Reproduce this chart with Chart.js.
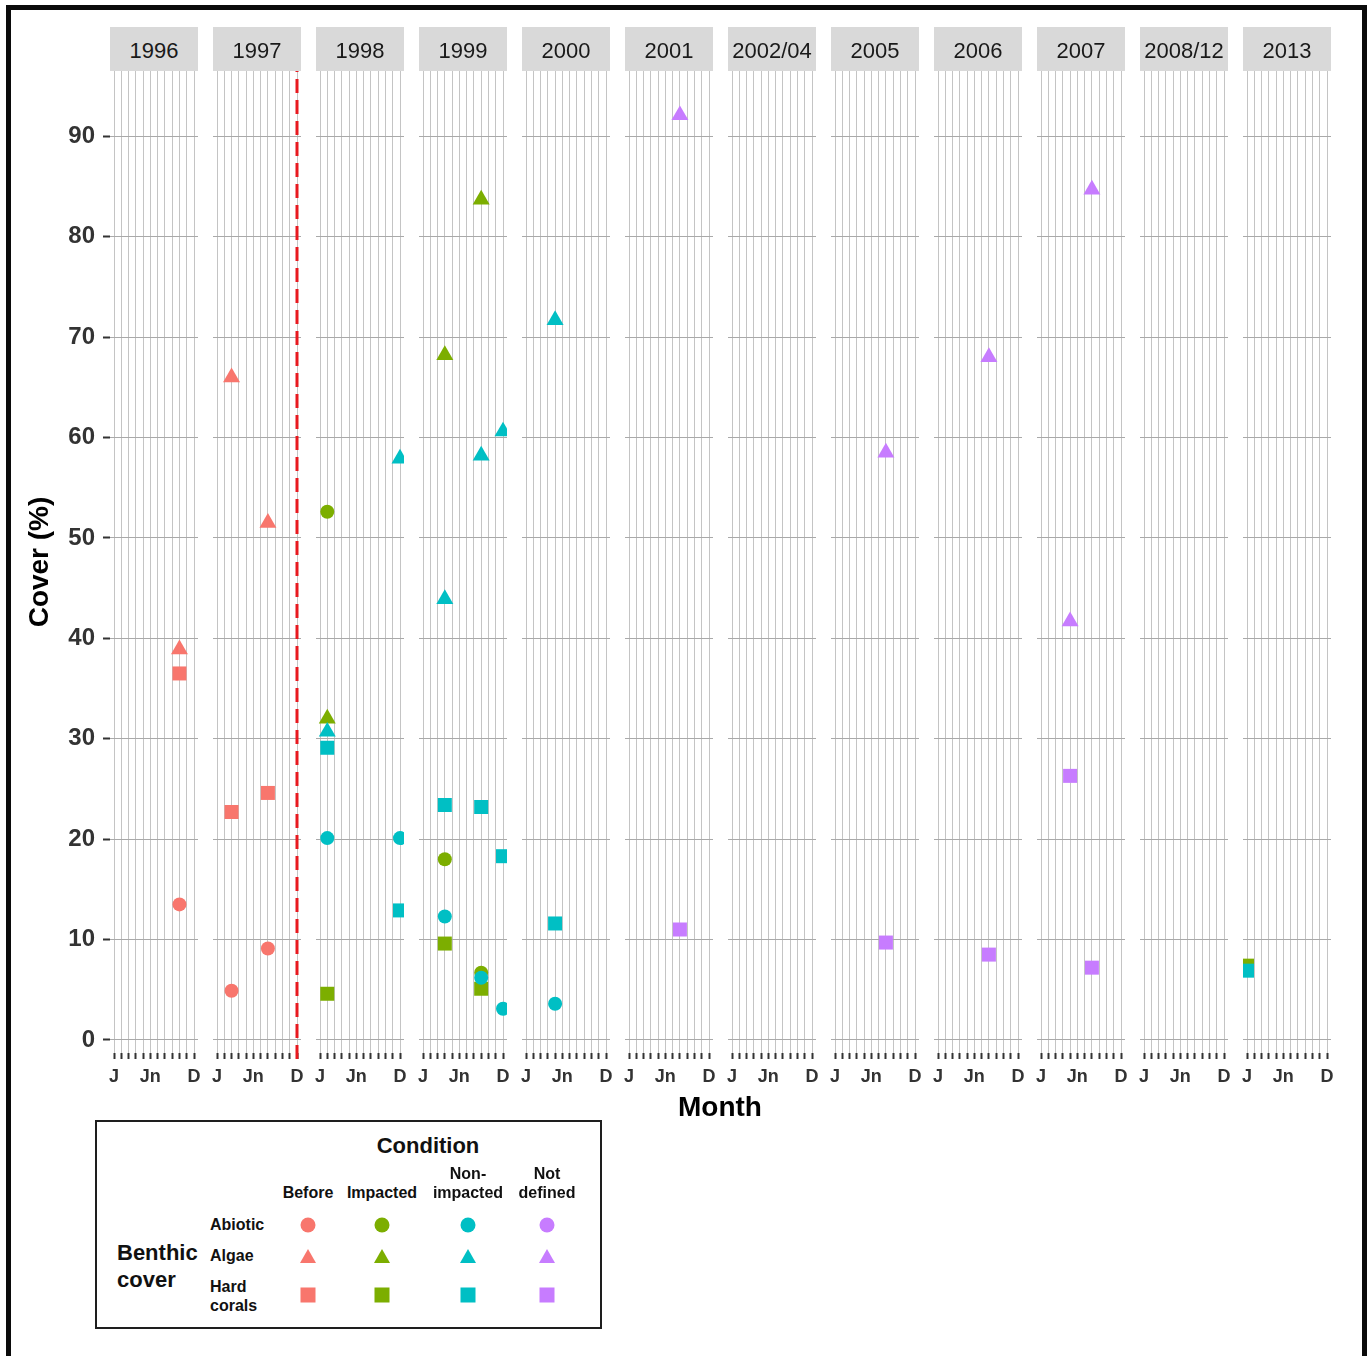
<!DOCTYPE html>
<html>
<head>
<meta charset="utf-8">
<script src="https://cdn.jsdelivr.net/npm/chart.js@4.4.0/dist/chart.umd.min.js"></script>
<style>
  body { margin: 0; background: #fff; width: 1372px; height: 1356px; overflow: hidden; position: relative;
         font-family: "Liberation Sans", Arial, sans-serif; }
  .frame { position: absolute; left: 6px; top: 5px; width: 1361px; height: 1420px; box-sizing: border-box;
           border: 5px solid #0b0b0b; }
  .strip { position: absolute; top: 27px; width: 88px; height: 44px; background: #d9d9d9; color: #1a1a1a;
           font-size: 22px; line-height: 48px; text-align: center; }
  .panel { position: absolute; top: 41px; }
  .txt { position: absolute; transform: translate(-50%, -50%); white-space: nowrap; line-height: 1; font-weight: bold; color: #111; }
  .ltxt { position: absolute; transform: translateY(-50%); white-space: nowrap; line-height: 1; font-weight: bold; color: #111; }
  .legend { position: absolute; left: 95px; top: 1120px; width: 507px; height: 209px; box-sizing: border-box;
            border: 2px solid #1e1e1e; }
  .sym { position: absolute; transform: translate(-50%, -50%); }
</style>
</head>
<body>
<div class="frame"></div>
<div id="plots"></div>
<div class="txt" style="left:720px; top:1107px; font-size:28px; color:#000;">Month</div>
<div class="legend"></div>
<div id="legendItems"></div>

<script>
// facetas (anos) e eixos
const panels = ['1996', '1997', '1998', '1999', '2000', '2001', '2002/04', '2005', '2006', '2007', '2008/12', '2013'];
const monthLabels = ['J', '', '', '', '', 'Jn', '', '', '', '', '', 'D'];
const yTicks = [0, 10, 20, 30, 40, 50, 60, 70, 80, 90];

const conditions = ['Before', 'Impacted', 'Non-impacted', 'Not defined'];
const conditionColors = ['#F8766D', '#7CAE00', '#00BFC4', '#C77CFF'];
const coverTypes = ['Abiotic', 'Algae', 'Hard corals'];

// amostragens
const samplePanel = ['1996', '1997', '1997', '1998', '1998', '1998', '1999', '1999', '1999', '1999', '1999',
                     '2000', '2001', '2005', '2006', '2007', '2007', '2013', '2013'];
const sampleMonth = [10, 3, 8, 2, 2, 12, 4, 4, 9, 9, 12, 5, 8, 8, 8, 5, 8, 1, 1];
const sampleCondition = ['Before', 'Before', 'Before', 'Impacted', 'Non-impacted', 'Non-impacted', 'Impacted',
                         'Non-impacted', 'Impacted', 'Non-impacted', 'Non-impacted', 'Non-impacted',
                         'Not defined', 'Not defined', 'Not defined', 'Not defined', 'Not defined',
                         'Impacted', 'Non-impacted'];
const abiotic    = [13.5, 4.9, 9.1, 52.6, 20.1, 20.1, 18.0, 12.3, 6.7, 6.2, 3.1, 3.6, null, null, null, null, null, null, null];
const algae      = [38.9, 66.0, 51.5, 32.0, 30.7, 57.9, 68.2, 43.9, 83.7, 58.2, 60.6, 71.7, 92.1, 58.5, 68.0, 41.7, 84.7, null, null];
const hardCorals = [36.5, 22.7, 24.6, 4.6, 29.1, 12.9, 9.6, 23.4, 5.1, 23.2, 18.3, 11.6, 11.0, 9.7, 8.5, 26.3, 7.2, 7.4, 6.9];

// linha vermelha: inicio do impacto (dez/1997)
const impactPanel = '1997';
const impactMonth = 12;

const coverValues = [abiotic, algae, hardCorals];
const coverStyles = [
    { pointStyle: 'circle', radius: 7 },
    { pointStyle: 'triangle', radius: 9.8 },
    { pointStyle: 'rect', radius: 9.9 }
];

const yMin = -1.3, yMax = 96.5;
const panelLeft0 = 110, panelStep = 103, panelWidth = 88;
const areaHeight = 982, xAxisHeight = 46, pad = 14, padTop = 30;

function montarDatasets(ano) {
    let datasets = [];
    conditions.forEach(function (cond, c) {
        coverTypes.forEach(function (tipo, t) {
            let pontos = [];
            samplePanel.forEach(function (p, k) {
                if (p === ano && sampleCondition[k] === cond && coverValues[t][k] !== null) {
                    pontos.push({ x: sampleMonth[k], y: coverValues[t][k] });
                }
            });
            if (pontos.length) {
                datasets.push({
                    label: cond + ' - ' + tipo,
                    data: pontos,
                    pointStyle: coverStyles[t].pointStyle,
                    pointRadius: coverStyles[t].radius,
                    backgroundColor: conditionColors[c],
                    borderColor: conditionColors[c],
                    borderWidth: 0,
                    order: 10 - c
                });
            }
        });
    });
    if (ano === impactPanel) {
        datasets.push({
            type: 'line',
            data: [{ x: impactMonth, y: -1.9 }, { x: impactMonth, y: yMax }],
            borderColor: '#e8191f',
            borderWidth: 3,
            borderDash: [14, 7],
            pointRadius: 0,
            clip: false,
            order: 20
        });
    }
    return datasets;
}

function criarPainel(ano, i) {
    let primeiro = i === 0;
    let left = panelLeft0 + i * panelStep;

    let strip = document.createElement('div');
    strip.className = 'strip';
    strip.style.left = left + 'px';
    strip.textContent = ano;
    document.body.appendChild(strip);

    let canvasLeft = primeiro ? 12 : left - pad;
    let canvasWidth = (left + panelWidth + pad) - canvasLeft;
    let canvasHeight = padTop + areaHeight + xAxisHeight;
    let box = document.createElement('div');
    box.className = 'panel';
    box.style.left = canvasLeft + 'px';
    let canvas = document.createElement('canvas');
    canvas.width = canvasWidth;
    canvas.height = canvasHeight;
    canvas.style.width = canvasWidth + 'px';
    canvas.style.height = canvasHeight + 'px';
    box.appendChild(canvas);
    document.getElementById('plots').appendChild(box);

    new Chart(canvas.getContext('2d'), {
        type: 'scatter',
        data: { datasets: montarDatasets(ano) },
        options: {
            responsive: false,
            animation: false,
            devicePixelRatio: 1,
            events: [],
            layout: { padding: { left: primeiro ? 0 : pad, right: pad, top: padTop, bottom: 0 } },
            plugins: { legend: { display: false }, tooltip: { enabled: false } },
            scales: {
                x: {
                    type: 'linear',
                    min: 0.45,
                    max: 12.55,
                    afterBuildTicks: function (s) { s.ticks = monthLabels.map(function (l, m) { return { value: m + 1 }; }); },
                    afterFit: function (s) { s.height = xAxisHeight; },
                    ticks: {
                        autoSkip: false,
                        maxRotation: 0,
                        padding: 7,
                        color: '#333',
                        font: { family: 'Liberation Sans', size: 18, weight: 'bold' },
                        callback: function (v) { return monthLabels[v - 1]; }
                    },
                    grid: { color: '#c4c4c4', lineWidth: 1, drawTicks: true, tickLength: 6, tickColor: '#333', tickWidth: 2 },
                    border: { display: false }
                },
                y: {
                    min: yMin,
                    max: yMax,
                    afterBuildTicks: function (s) { s.ticks = yTicks.map(function (v) { return { value: v }; }); },
                    afterFit: function (s) { s.width = primeiro ? panelLeft0 - canvasLeft : 0; },
                    ticks: {
                        display: primeiro,
                        padding: 8,
                        color: '#333',
                        font: { family: 'Liberation Sans', size: 24, weight: 'bold' }
                    },
                    grid: { color: '#a9a9a9', lineWidth: 1, drawTicks: primeiro, tickLength: 7, tickColor: '#333', tickWidth: 2 },
                    border: { display: false },
                    title: {
                        display: primeiro,
                        text: 'Cover (%)',
                        color: '#000',
                        padding: { top: 11, bottom: 0 },
                        font: { family: 'Liberation Sans', size: 28, weight: 'bold' }
                    }
                }
            }
        }
    });
}

panels.forEach(criarPainel);

// legenda (matriz condicao x tipo de cobertura)
const legendColX = [308, 382, 468, 547];
const legendRowY = [1225, 1256, 1295];
const legendHeaders = [['Before'], ['Impacted'], ['Non-', 'impacted'], ['Not', 'defined']];
const legendRowLabels = [['Abiotic'], ['Algae'], ['Hard', 'corals']];
const legendRowLabelY = [[1225], [1256], [1287, 1306]];

function texto(html, cls, x, y, size) {
    let d = document.createElement('div');
    d.className = cls;
    d.style.left = x + 'px';
    d.style.top = y + 'px';
    d.style.fontSize = size + 'px';
    d.textContent = html;
    document.getElementById('legendItems').appendChild(d);
}

texto('Condition', 'txt', 428, 1146, 22);
texto('Benthic', 'ltxt', 117, 1253, 22);
texto('cover', 'ltxt', 117, 1280, 22);
legendHeaders.forEach(function (linhas, c) {
    let y0 = linhas.length === 2 ? 1174 : 1193;
    linhas.forEach(function (l, k) { texto(l, 'txt', legendColX[c], y0 + k * 19, 16); });
});
legendRowLabels.forEach(function (linhas, r) {
    linhas.forEach(function (l, k) { texto(l, 'ltxt', 210, legendRowLabelY[r][k], 16); });
});
conditions.forEach(function (cond, c) {
    coverTypes.forEach(function (tipo, t) {
        let s = document.createElement('div');
        s.className = 'sym';
        s.style.left = legendColX[c] + 'px';
        s.style.top = legendRowY[t] + 'px';
        s.style.background = conditionColors[c];
        if (t === 0) { s.style.width = '15px'; s.style.height = '15px'; s.style.borderRadius = '50%'; }
        if (t === 1) { s.style.width = '16px'; s.style.height = '14px'; s.style.clipPath = 'polygon(50% 0, 100% 100%, 0 100%)'; }
        if (t === 2) { s.style.width = '15px'; s.style.height = '15px'; }
        document.getElementById('legendItems').appendChild(s);
    });
});
</script>
</body>
</html>
